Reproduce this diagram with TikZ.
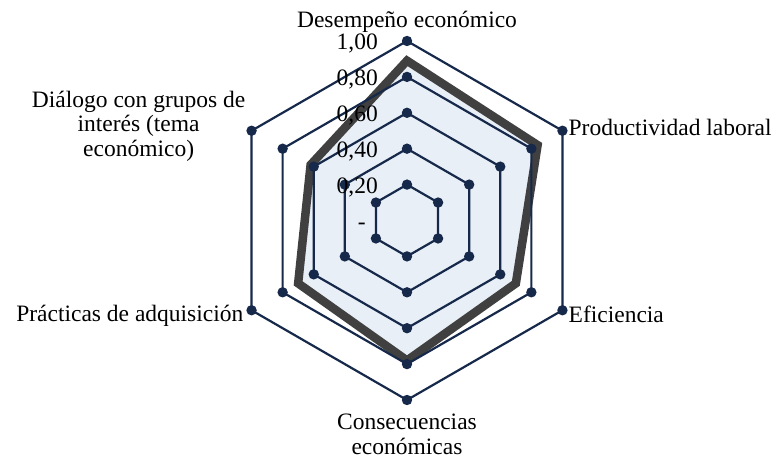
\documentclass[tikz,border=0pt]{standalone}
\usepackage{fontspec}
\setmainfont{Liberation Serif}
\usepackage{tikz}
\usetikzlibrary{positioning}
\definecolor{radarNavy}{RGB}{22,41,74}
\definecolor{radarFill}{RGB}{233,239,247}
\definecolor{radarGray}{RGB}{64,64,64}

\begin{document}
\begin{tikzpicture}[x=1pt, y=1pt,
        ring/.style={draw=radarNavy, line width=2.2pt},
        dotfill/.style={fill=radarNavy},
        serie/.style={draw=radarGray, line width=8.5pt, line join=miter},
        axlabel/.style={inner sep=0pt, font=\fontsize{23.5}{24.5}\selectfont},
        ticklabel/.style={inner sep=0pt, anchor=base east, font=\fontsize{23.5}{24.5}\selectfont}]
        \useasboundingbox (0,0) rectangle (778,460);
        \begin{scope}[shift={(407,239.5)}]
        % serie (area + thick line)
        \fill[radarFill] (90:159.8) -- (30:150.8) -- (-30:125.7) -- (-90:140) -- (-150:125.7) -- (150:111.3) -- cycle;
        \draw[serie] (90:159.8) -- (30:150.8) -- (-30:125.7) -- (-90:140) -- (-150:125.7) -- (150:111.3) -- cycle;

        % ring 0,20
        \draw[ring] (90:35.9) -- (30:35.9) -- (-30:35.9) -- (-90:35.9) -- (-150:35.9) -- (150:35.9) -- cycle;
        \fill[dotfill] (90:35.9) circle (5.2pt) (30:35.9) circle (5.2pt) (-30:35.9) circle (5.2pt) (-90:35.9) circle (5.2pt) (-150:35.9) circle (5.2pt) (150:35.9) circle (5.2pt);
        % ring 0,40
        \draw[ring] (90:71.8) -- (30:71.8) -- (-30:71.8) -- (-90:71.8) -- (-150:71.8) -- (150:71.8) -- cycle;
        \fill[dotfill] (90:71.8) circle (5.2pt) (30:71.8) circle (5.2pt) (-30:71.8) circle (5.2pt) (-90:71.8) circle (5.2pt) (-150:71.8) circle (5.2pt) (150:71.8) circle (5.2pt);
        % ring 0,60
        \draw[ring] (90:107.7) -- (30:107.7) -- (-30:107.7) -- (-90:107.7) -- (-150:107.7) -- (150:107.7) -- cycle;
        \fill[dotfill] (90:107.7) circle (5.2pt) (30:107.7) circle (5.2pt) (-30:107.7) circle (5.2pt) (-90:107.7) circle (5.2pt) (-150:107.7) circle (5.2pt) (150:107.7) circle (5.2pt);
        % ring 0,80
        \draw[ring] (90:143.6) -- (30:143.6) -- (-30:143.6) -- (-90:143.6) -- (-150:143.6) -- (150:143.6) -- cycle;
        \fill[dotfill] (90:143.6) circle (5.2pt) (30:143.6) circle (5.2pt) (-30:143.6) circle (5.2pt) (-90:143.6) circle (5.2pt) (-150:143.6) circle (5.2pt) (150:143.6) circle (5.2pt);
        % ring 1,00
        \coordinate (v1) at (90:179.5);
        \coordinate (v2) at (30:179.5);
        \coordinate (v3) at (-30:179.5);
        \coordinate (v4) at (-90:179.5);
        \coordinate (v5) at (-150:179.5);
        \coordinate (v6) at (150:179.5);
        \draw[ring] (v1) -- (v2) -- (v3) -- (v4) -- (v5) -- (v6) -- cycle;
        \fill[dotfill] (v1) circle (5.2pt) (v2) circle (5.2pt) (v3) circle (5.2pt) (v4) circle (5.2pt) (v5) circle (5.2pt) (v6) circle (5.2pt);

        % scale
        \node[ticklabel] (t0) at (-41,-9) {-};
        \node[ticklabel] (t1) at (-29,26.9) {0,20};
        \node[ticklabel] (t2) at (-29,62.8) {0,40};
        \node[ticklabel] (t3) at (-29,98.7) {0,60};
        \node[ticklabel] (t4) at (-29,134.6) {0,80};
        \node[ticklabel] (t5) at (-29,170.5) {1,00};
        \end{scope}

        % axis labels
        \node[axlabel, above=8pt of v1] (l1) {Desempeño económico};
        \node[axlabel, anchor=base west, xshift=6pt, yshift=-4.5pt] (l2) at (v2) {Productividad laboral};
        \node[axlabel, anchor=base west, xshift=6pt, yshift=-12pt] (l3) at (v3) {Eficiencia};
        \node[axlabel, align=center, below=14pt of v4] (l4) {Consecuencias\\económicas};
        \node[axlabel, anchor=base east, xshift=-8pt, yshift=-11pt] (l5) at (v5) {Prácticas de adquisición};
        \node[axlabel, align=center, anchor=north east, xshift=-6pt, yshift=40pt] (l6) at (v6) {Diálogo con grupos de\\interés (tema\\económico)};
\end{tikzpicture}
\end{document}
